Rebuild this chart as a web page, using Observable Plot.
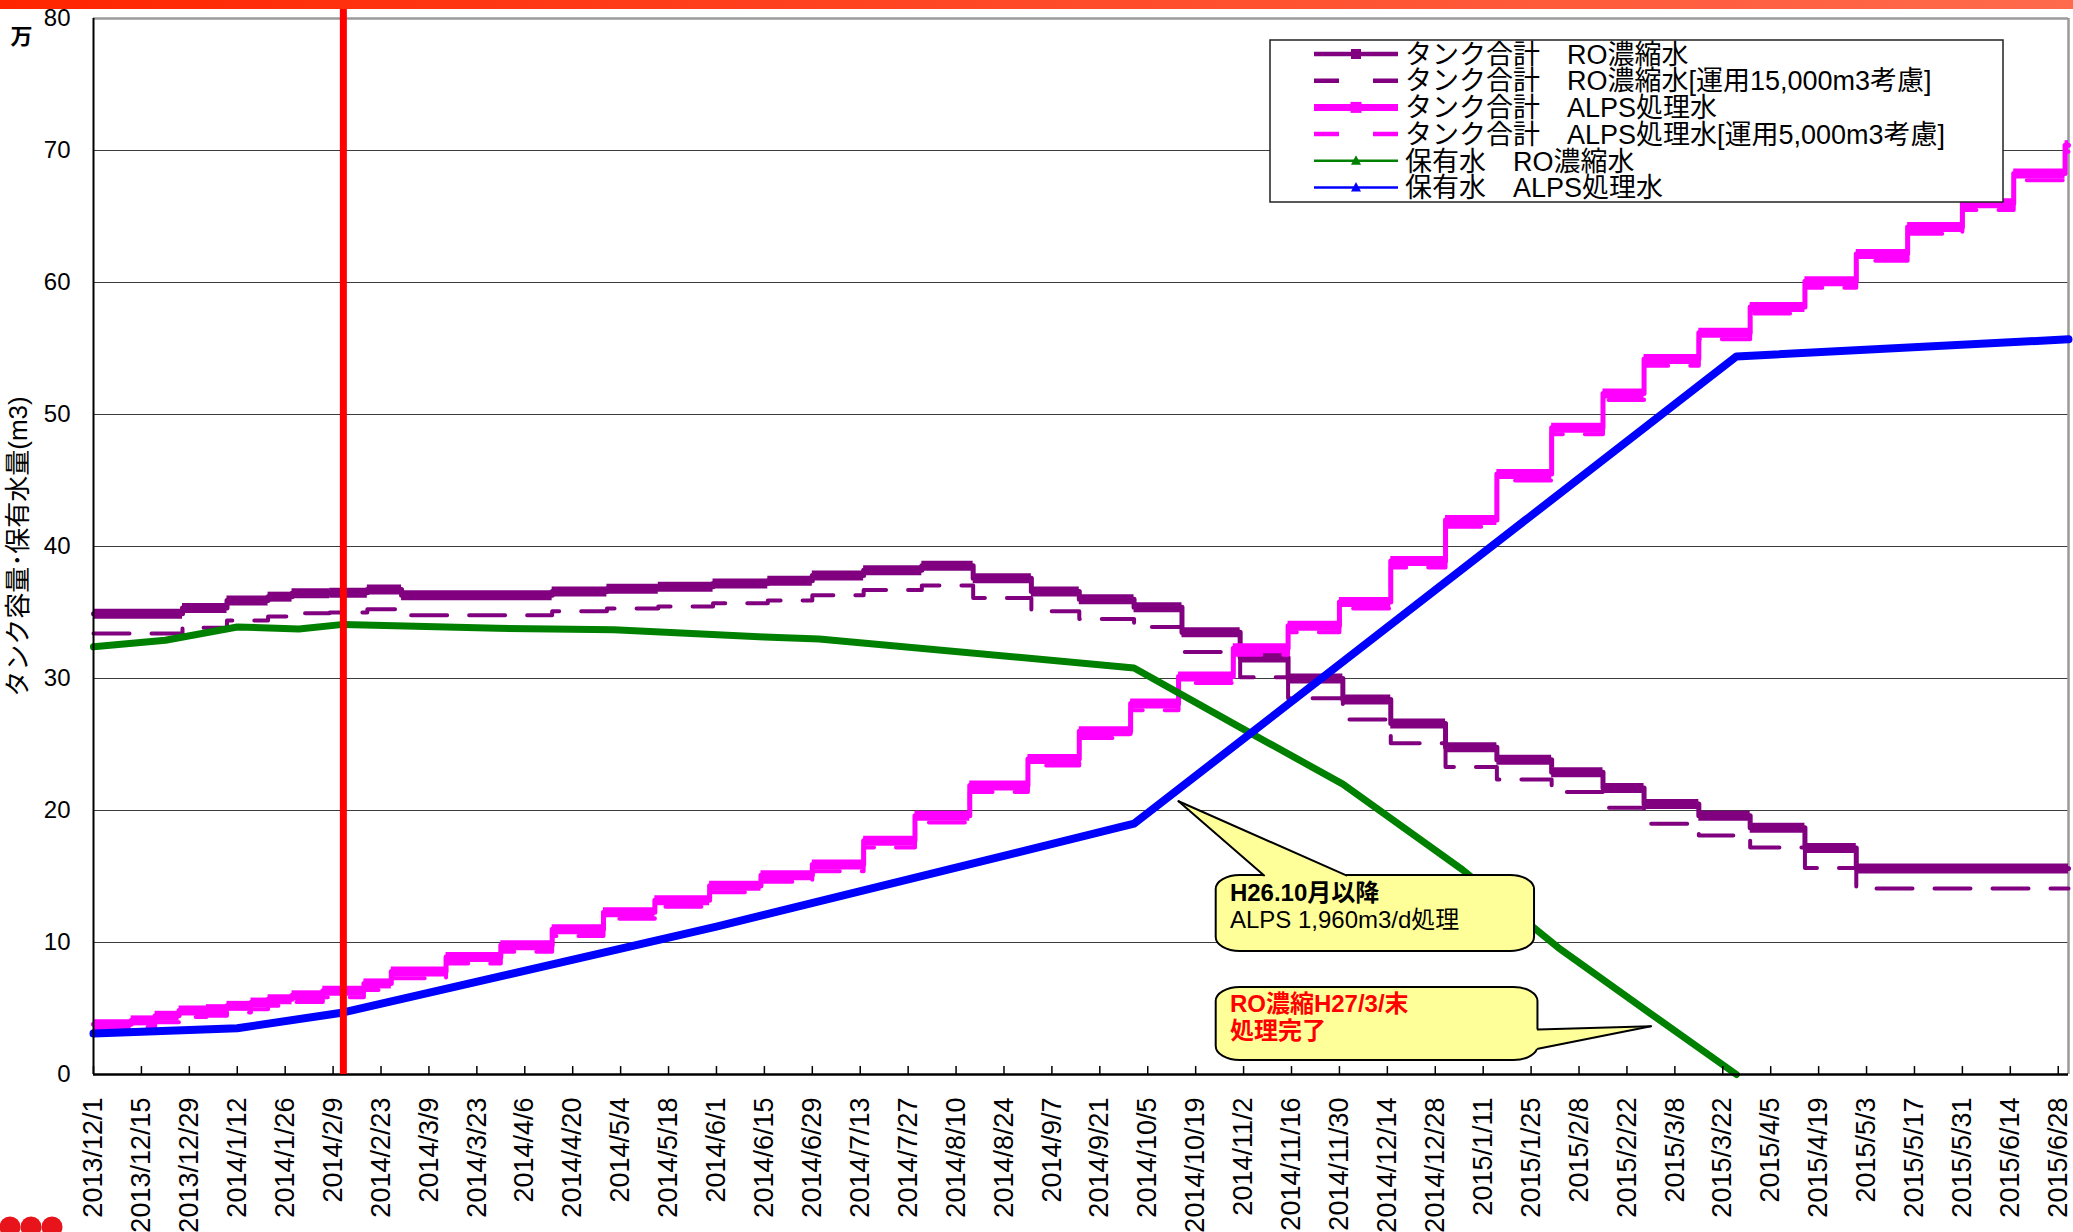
<!DOCTYPE html>
<html>
<head>
<meta charset="utf-8">
<script src="https://cdn.jsdelivr.net/npm/d3@7"></script>
<script src="https://cdn.jsdelivr.net/npm/@observablehq/plot@0.6"></script>
<style>
html, body { margin: 0; padding: 0; background: #fff; overflow: hidden; }
#wrap { position: relative; width: 2073px; height: 1232px; font-family: "Liberation Sans", "Noto Sans CJK JP", sans-serif; }
#topbar { position: absolute; left: 0; top: 0; width: 2073px; height: 9px; background: linear-gradient(to right, #ff2400, #ff4a28 50%, #ff6a4c); z-index: 5; }
</style>
</head>
<body>
<div id="wrap"><div id="topbar"></div></div>
<script>
// ---------------- data ----------------
const xStart = "2013-12-01";
const xEnd = "2015-07-01";
const yTicks = [0, 10, 20, 30, 40, 50, 60, 70, 80];
const xTickLabels = ["2013/12/1","2013/12/15","2013/12/29","2014/1/12","2014/1/26","2014/2/9","2014/2/23","2014/3/9","2014/3/23","2014/4/6","2014/4/20","2014/5/4","2014/5/18","2014/6/1","2014/6/15","2014/6/29","2014/7/13","2014/7/27","2014/8/10","2014/8/24","2014/9/7","2014/9/21","2014/10/5","2014/10/19","2014/11/2","2014/11/16","2014/11/30","2014/12/14","2014/12/28","2015/1/11","2015/1/25","2015/2/8","2015/2/22","2015/3/8","2015/3/22","2015/4/5","2015/4/19","2015/5/3","2015/5/17","2015/5/31","2015/6/14","2015/6/28"];

// タンク合計 RO濃縮水 (万m3)
const roTank = [["2013-12-01",34.9],["2013-12-27",35.35],["2014-01-09",35.9],["2014-01-21",36.2],["2014-01-28",36.45],["2014-02-08",36.5],["2014-02-19",36.75],["2014-03-01",36.3],["2014-04-14",36.6],["2014-04-30",36.8],["2014-05-15",36.95],["2014-05-31",37.2],["2014-06-16",37.4],["2014-06-29",37.8],["2014-07-14",38.2],["2014-07-31",38.55],["2014-08-15",37.6],["2014-09-01",36.6],["2014-09-15",36.0],["2014-10-01",35.4],["2014-10-15",33.5],["2014-11-01",31.6],["2014-11-15",30.0],["2014-12-01",28.4],["2014-12-15",26.6],["2014-12-31",24.8],["2015-01-15",23.85],["2015-01-31",22.9],["2015-02-15",21.7],["2015-02-27",20.5],["2015-03-15",19.6],["2015-03-30",18.7],["2015-04-15",17.15],["2015-04-30",15.6],["2015-07-01",15.6]];
// タンク合計 RO濃縮水[運用15,000m3考慮]
const roTankOp = [["2013-12-01",33.4],["2013-12-27",33.85],["2014-01-09",34.4],["2014-01-21",34.7],["2014-01-28",34.95],["2014-02-08",35.0],["2014-02-19",35.25],["2014-03-01",34.8],["2014-04-14",35.1],["2014-04-30",35.3],["2014-05-15",35.45],["2014-05-31",35.7],["2014-06-16",35.9],["2014-06-29",36.3],["2014-07-14",36.7],["2014-07-31",37.05],["2014-08-15",36.1],["2014-09-01",35.1],["2014-09-15",34.5],["2014-10-01",33.9],["2014-10-15",32.0],["2014-11-01",30.1],["2014-11-15",28.5],["2014-12-01",26.9],["2014-12-15",25.1],["2014-12-31",23.3],["2015-01-15",22.35],["2015-01-31",21.4],["2015-02-15",20.2],["2015-02-27",19.0],["2015-03-15",18.1],["2015-03-30",17.2],["2015-04-15",15.65],["2015-04-30",14.1],["2015-07-01",14.1]];
// タンク合計 ALPS処理水
const alpsTank = [["2013-12-01",3.8],["2013-12-12",4.1],["2013-12-19",4.45],["2013-12-26",4.85],["2014-01-03",4.95],["2014-01-09",5.2],["2014-01-16",5.45],["2014-01-21",5.7],["2014-01-28",6.0],["2014-02-06",6.35],["2014-02-18",6.9],["2014-02-26",7.8],["2014-03-14",8.9],["2014-03-30",9.8],["2014-04-14",11.0],["2014-04-29",12.3],["2014-05-14",13.2],["2014-05-30",14.3],["2014-06-14",15.1],["2014-06-29",15.9],["2014-07-14",17.7],["2014-07-29",19.6],["2014-08-14",21.9],["2014-08-31",23.9],["2014-09-15",26.0],["2014-09-30",28.1],["2014-10-14",30.15],["2014-10-30",32.3],["2014-11-15",34.0],["2014-11-30",35.8],["2014-12-15",38.9],["2014-12-31",42.0],["2015-01-15",45.5],["2015-01-31",49.0],["2015-02-15",51.6],["2015-02-27",54.2],["2015-03-15",56.2],["2015-03-30",58.15],["2015-04-15",60.1],["2015-04-30",62.15],["2015-05-15",64.2],["2015-05-31",66.0],["2015-06-15",68.25],["2015-06-30",70.4],["2015-07-01",70.4]];
// タンク合計 ALPS処理水[運用5,000m3考慮]
const alpsTankOp = [["2013-12-01",3.3],["2013-12-12",3.6],["2013-12-19",3.95],["2013-12-26",4.35],["2014-01-03",4.45],["2014-01-09",4.7],["2014-01-16",4.95],["2014-01-21",5.2],["2014-01-28",5.5],["2014-02-06",5.85],["2014-02-18",6.4],["2014-02-26",7.3],["2014-03-14",8.4],["2014-03-30",9.3],["2014-04-14",10.5],["2014-04-29",11.8],["2014-05-14",12.7],["2014-05-30",13.8],["2014-06-14",14.6],["2014-06-29",15.4],["2014-07-14",17.2],["2014-07-29",19.1],["2014-08-14",21.4],["2014-08-31",23.4],["2014-09-15",25.5],["2014-09-30",27.6],["2014-10-14",29.65],["2014-10-30",31.8],["2014-11-15",33.5],["2014-11-30",35.3],["2014-12-15",38.4],["2014-12-31",41.5],["2015-01-15",45.0],["2015-01-31",48.5],["2015-02-15",51.1],["2015-02-27",53.7],["2015-03-15",55.7],["2015-03-30",57.65],["2015-04-15",59.6],["2015-04-30",61.65],["2015-05-15",63.7],["2015-05-31",65.5],["2015-06-15",67.75],["2015-06-30",69.9],["2015-07-01",69.9]];
// 保有水 RO濃縮水
const roHold = [["2013-12-01",32.4],["2013-12-22",32.9],["2014-01-12",33.9],["2014-01-30",33.75],["2014-02-12",34.1],["2014-03-29",33.8],["2014-05-02",33.7],["2014-06-15",33.15],["2014-07-01",33.0],["2014-10-01",30.8],["2014-11-01",26.3],["2014-12-01",22.0],["2015-01-05",15.5],["2015-02-02",9.6],["2015-03-01",4.6],["2015-03-26",0]];
// 保有水 ALPS処理水
const alpsHold = [["2013-12-01",3.1],["2014-01-12",3.5],["2014-02-12",4.7],["2014-06-01",11.2],["2014-10-01",19.0],["2015-03-26",54.4],["2015-07-01",55.7]];

const redLineDate = "2014-02-12";

const legendLabels = ["タンク合計　RO濃縮水","タンク合計　RO濃縮水[運用15,000m3考慮]","タンク合計　ALPS処理水","タンク合計　ALPS処理水[運用5,000m3考慮]","保有水　RO濃縮水","保有水　ALPS処理水"];
const yAxisLabel = "タンク容量･保有水量(m3)";
const unitLabel = "万";

// callouts (anchored in data space)
const callout1Box = {x1: "2014-10-25", x2: "2015-01-26", y1: 9.32, y2: 15.08};
const callout1Ptr = [["2014-10-14", 20.7], ["2014-11-08", 15.08], ["2014-12-02", 15.08]];
const callout1Text = [["H26.10月以降", 13.76], ["ALPS 1,960m3/d処理", 11.7]];
const callout2Box = {x1: "2014-10-25", x2: "2015-01-27", y1: 1.06, y2: 6.59};
const callout2Ptr = [["2015-03-01", 3.65], ["2015-01-27", 3.4], ["2015-01-27", 1.95]];
const callout2Text = [["RO濃縮H27/3/末", 5.32], ["処理完了", 3.26]];
const calloutTextX = "2014-10-29";

// ---------------- helpers ----------------
const D = s => new Date(s + "T00:00:00Z");
const parseTick = s => { const [y, m, d] = s.split("/").map(Number); return new Date(Date.UTC(y, m - 1, d)); };
const pts = arr => arr.map(([d, v]) => ({date: D(d), value: v}));
const segs = p => d3.pairs(p).map(([a, b]) => ({x1: a.date, x2: b.date, y: a.value}));

const PURPLE = "#800080", MAGENTA = "#FF00FF", GREEN = "#008000", BLUE = "#0000FF", RED = "#FF0000", YELLOW = "#FFFF99";
const FONT = '"Liberation Sans","Noto Sans CJK JP",sans-serif';

const roTankP = pts(roTank), roTankOpP = pts(roTankOp), alpsTankP = pts(alpsTank), alpsTankOpP = pts(alpsTankOp);
const roHoldP = pts(roHold), alpsHoldP = pts(alpsHold);
const tickDates = xTickLabels.map(parseTick);

function boxOf(b) { return [{x1: D(b.x1), x2: D(b.x2), y1: b.y1, y2: b.y2}]; }
// pointer fill polygon (base slightly pushed inside box to hide its border)
function ptrFill1(p) {
  const [t, a, b] = p;
  return [[t[0], t[1]], [a[0], a[1]], [a[0], a[1] - 0.2], [b[0], b[1] - 0.2], [b[0], b[1]]].map(([d, v]) => ({x: D(d), y: v}));
}
function ptrFill2(p) {
  const [t, a, b] = p;
  const inside = s => { const dt = D(s); return new Date(dt.getTime() - 86400000); };
  return [{x: D(t[0]), y: t[1]}, {x: D(a[0]), y: a[1]}, {x: inside(a[0]), y: a[1]}, {x: inside(b[0]), y: b[1]}, {x: D(b[0]), y: b[1]}];
}
function ptrSides(p) {
  const [t, a, b] = p;
  return [{s: 0, x: D(a[0]), y: a[1]}, {s: 0, x: D(t[0]), y: t[1]}, {s: 1, x: D(t[0]), y: t[1]}, {s: 1, x: D(b[0]), y: b[1]}];
}
const textRows = (rows) => rows.map(([t, v]) => ({x: D(calloutTextX), y: v, t}));

// ---------------- plot ----------------
const chart = Plot.plot({
  width: 2073,
  height: 1232,
  marginLeft: 93,
  marginRight: 5,
  marginTop: 18,
  marginBottom: 158,
  style: {fontFamily: FONT, fontSize: "24px", color: "#000", background: "transparent", overflow: "visible"},
  x: {type: "utc", domain: [D(xStart), D(xEnd)], axis: null},
  y: {domain: [0, 80], axis: null},
  marks: [
    Plot.gridY(yTicks.filter(v => v > 0 && v < 80), {stroke: "#3c3c3c", strokeOpacity: 1, strokeWidth: 1.2}),
    Plot.ruleY([80], {stroke: "#9a9a9a", strokeWidth: 2.5}),
    Plot.ruleX([D(xEnd)], {stroke: "#9a9a9a", strokeWidth: 2.5}),

    // タンク合計 RO濃縮水
    Plot.line(roTankP, {x: "date", y: "value", curve: "step-after", stroke: PURPLE, strokeWidth: 5}),
    Plot.ruleY(segs(roTankP), {x1: "x1", x2: "x2", y: "y", stroke: PURPLE, strokeWidth: 10}),
    // RO 運用考慮
    Plot.line(roTankOpP, {x: "date", y: "value", curve: "step-after", stroke: PURPLE, strokeWidth: 4, strokeDasharray: "36,22"}),
    // タンク合計 ALPS処理水
    Plot.line(alpsTankP, {x: "date", y: "value", curve: "step-after", stroke: MAGENTA, strokeWidth: 5}),
    Plot.ruleY(segs(alpsTankP), {x1: "x1", x2: "x2", y: "y", stroke: MAGENTA, strokeWidth: 10}),
    // ALPS 運用考慮
    Plot.line(alpsTankOpP, {x: "date", y: "value", curve: "step-after", stroke: MAGENTA, strokeWidth: 4, strokeDasharray: "36,22"}),
    // 保有水
    Plot.line(roHoldP, {x: "date", y: "value", stroke: GREEN, strokeWidth: 7}),
    Plot.line(alpsHoldP, {x: "date", y: "value", stroke: BLUE, strokeWidth: 8}),

    // axes
    Plot.ruleX(tickDates, {y1: 0, y2: 0.6, stroke: "#000", strokeWidth: 1.5}),
    Plot.ruleY([0], {stroke: "#000", strokeWidth: 2.5}),
    Plot.ruleX([D(xStart)], {stroke: "#000", strokeWidth: 2}),
    Plot.axisY(yTicks, {tickSize: 0, tickPadding: 23, fontSize: 24, label: null}),
    Plot.text(xTickLabels, {x: parseTick, text: d => d, frameAnchor: "bottom", dy: 23, rotate: -90, textAnchor: "end", lineAnchor: "middle", fontSize: 27}),
    Plot.text([yAxisLabel], {text: d => d, frameAnchor: "left", dx: -75, rotate: -90, textAnchor: "middle", lineAnchor: "middle", fontSize: 26}),
    Plot.text([unitLabel], {text: d => d, frameAnchor: "top-left", dx: -72, dy: 18, textAnchor: "middle", lineAnchor: "middle", fontSize: 22, fontWeight: "bold"}),

    // red marker line
    Plot.ruleX([D(redLineDate)], {y1: 0, y2: 80.85, stroke: RED, strokeWidth: 7}),

    // callout 1
    Plot.rect(boxOf(callout1Box), {x1: "x1", x2: "x2", y1: "y1", y2: "y2", fill: YELLOW, stroke: "#000", strokeWidth: 2, rx: 24, ry: 14}),
    Plot.line(ptrFill1(callout1Ptr), {x: "x", y: "y", fill: YELLOW, stroke: "none", curve: "linear-closed"}),
    Plot.line(ptrSides(callout1Ptr), {x: "x", y: "y", z: "s", stroke: "#000", strokeWidth: 2}),
    Plot.text(textRows(callout1Text.slice(0, 1)), {x: "x", y: "y", text: "t", textAnchor: "start", fontSize: 24, fontWeight: "bold", fill: "#000"}),
    Plot.text(textRows(callout1Text.slice(1)), {x: "x", y: "y", text: "t", textAnchor: "start", fontSize: 24, fill: "#000"}),

    // callout 2
    Plot.rect(boxOf(callout2Box), {x1: "x1", x2: "x2", y1: "y1", y2: "y2", fill: YELLOW, stroke: "#000", strokeWidth: 2, rx: 24, ry: 14}),
    Plot.line(ptrFill2(callout2Ptr), {x: "x", y: "y", fill: YELLOW, stroke: "none", curve: "linear-closed"}),
    Plot.line(ptrSides(callout2Ptr), {x: "x", y: "y", z: "s", stroke: "#000", strokeWidth: 2}),
    Plot.text(textRows(callout2Text), {x: "x", y: "y", text: "t", textAnchor: "start", fontSize: 24, fontWeight: "bold", fill: RED})
  ]
});
const wrap = document.getElementById("wrap");
chart.style.position = "absolute";
chart.style.left = "0px";
chart.style.top = "0px";
wrap.appendChild(chart);

// ---------------- legend ----------------
const legendStyles = [
  {stroke: PURPLE, width: 4.5, dash: null, marker: "square", msize: 10},
  {stroke: PURPLE, width: 4.5, dash: "25,34", marker: null},
  {stroke: MAGENTA, width: 7, dash: null, marker: "square", msize: 11},
  {stroke: MAGENTA, width: 4.5, dash: "25,34", marker: null},
  {stroke: GREEN, width: 2.5, dash: null, marker: "triangle", msize: 10},
  {stroke: BLUE, width: 2.5, dash: null, marker: "triangle", msize: 10}
];
const lg = d3.select(wrap).append("svg")
  .attr("width", 736).attr("height", 165)
  .style("position", "absolute").style("left", "1269px").style("top", "39px")
  .style("font-family", FONT);
lg.append("rect").attr("x", 1).attr("y", 1).attr("width", 733).attr("height", 162)
  .attr("fill", "#fff").attr("stroke", "#222").attr("stroke-width", 1.5);
legendLabels.forEach((label, i) => {
  const st = legendStyles[i];
  const y = 15 + 26.7 * i;
  lg.append("line").attr("x1", 45).attr("x2", 129).attr("y1", y).attr("y2", y)
    .attr("stroke", st.stroke).attr("stroke-width", st.width)
    .attr("stroke-dasharray", st.dash);
  if (st.marker === "square") {
    lg.append("rect").attr("x", 87 - st.msize / 2).attr("y", y - st.msize / 2)
      .attr("width", st.msize).attr("height", st.msize).attr("fill", st.stroke);
  } else if (st.marker === "triangle") {
    const s = st.msize;
    lg.append("path").attr("d", `M${87},${y - s * 0.55}L${87 + s / 2},${y + s * 0.4}L${87 - s / 2},${y + s * 0.4}Z`).attr("fill", st.stroke);
  }
  lg.append("text").attr("x", 136).attr("y", y).attr("dy", "0.36em")
    .attr("font-size", 27).attr("fill", "#000").text(label);
});

// decorative red dots (bottom-left)
const dots = d3.select(wrap).append("svg")
  .attr("width", 70).attr("height", 18)
  .style("position", "absolute").style("left", "0px").style("top", "1214px");
[10, 31, 52].forEach(cx => dots.append("circle").attr("cx", cx).attr("cy", 13).attr("r", 10.5).attr("fill", "#e8141b"));
</script>
</body>
</html>
